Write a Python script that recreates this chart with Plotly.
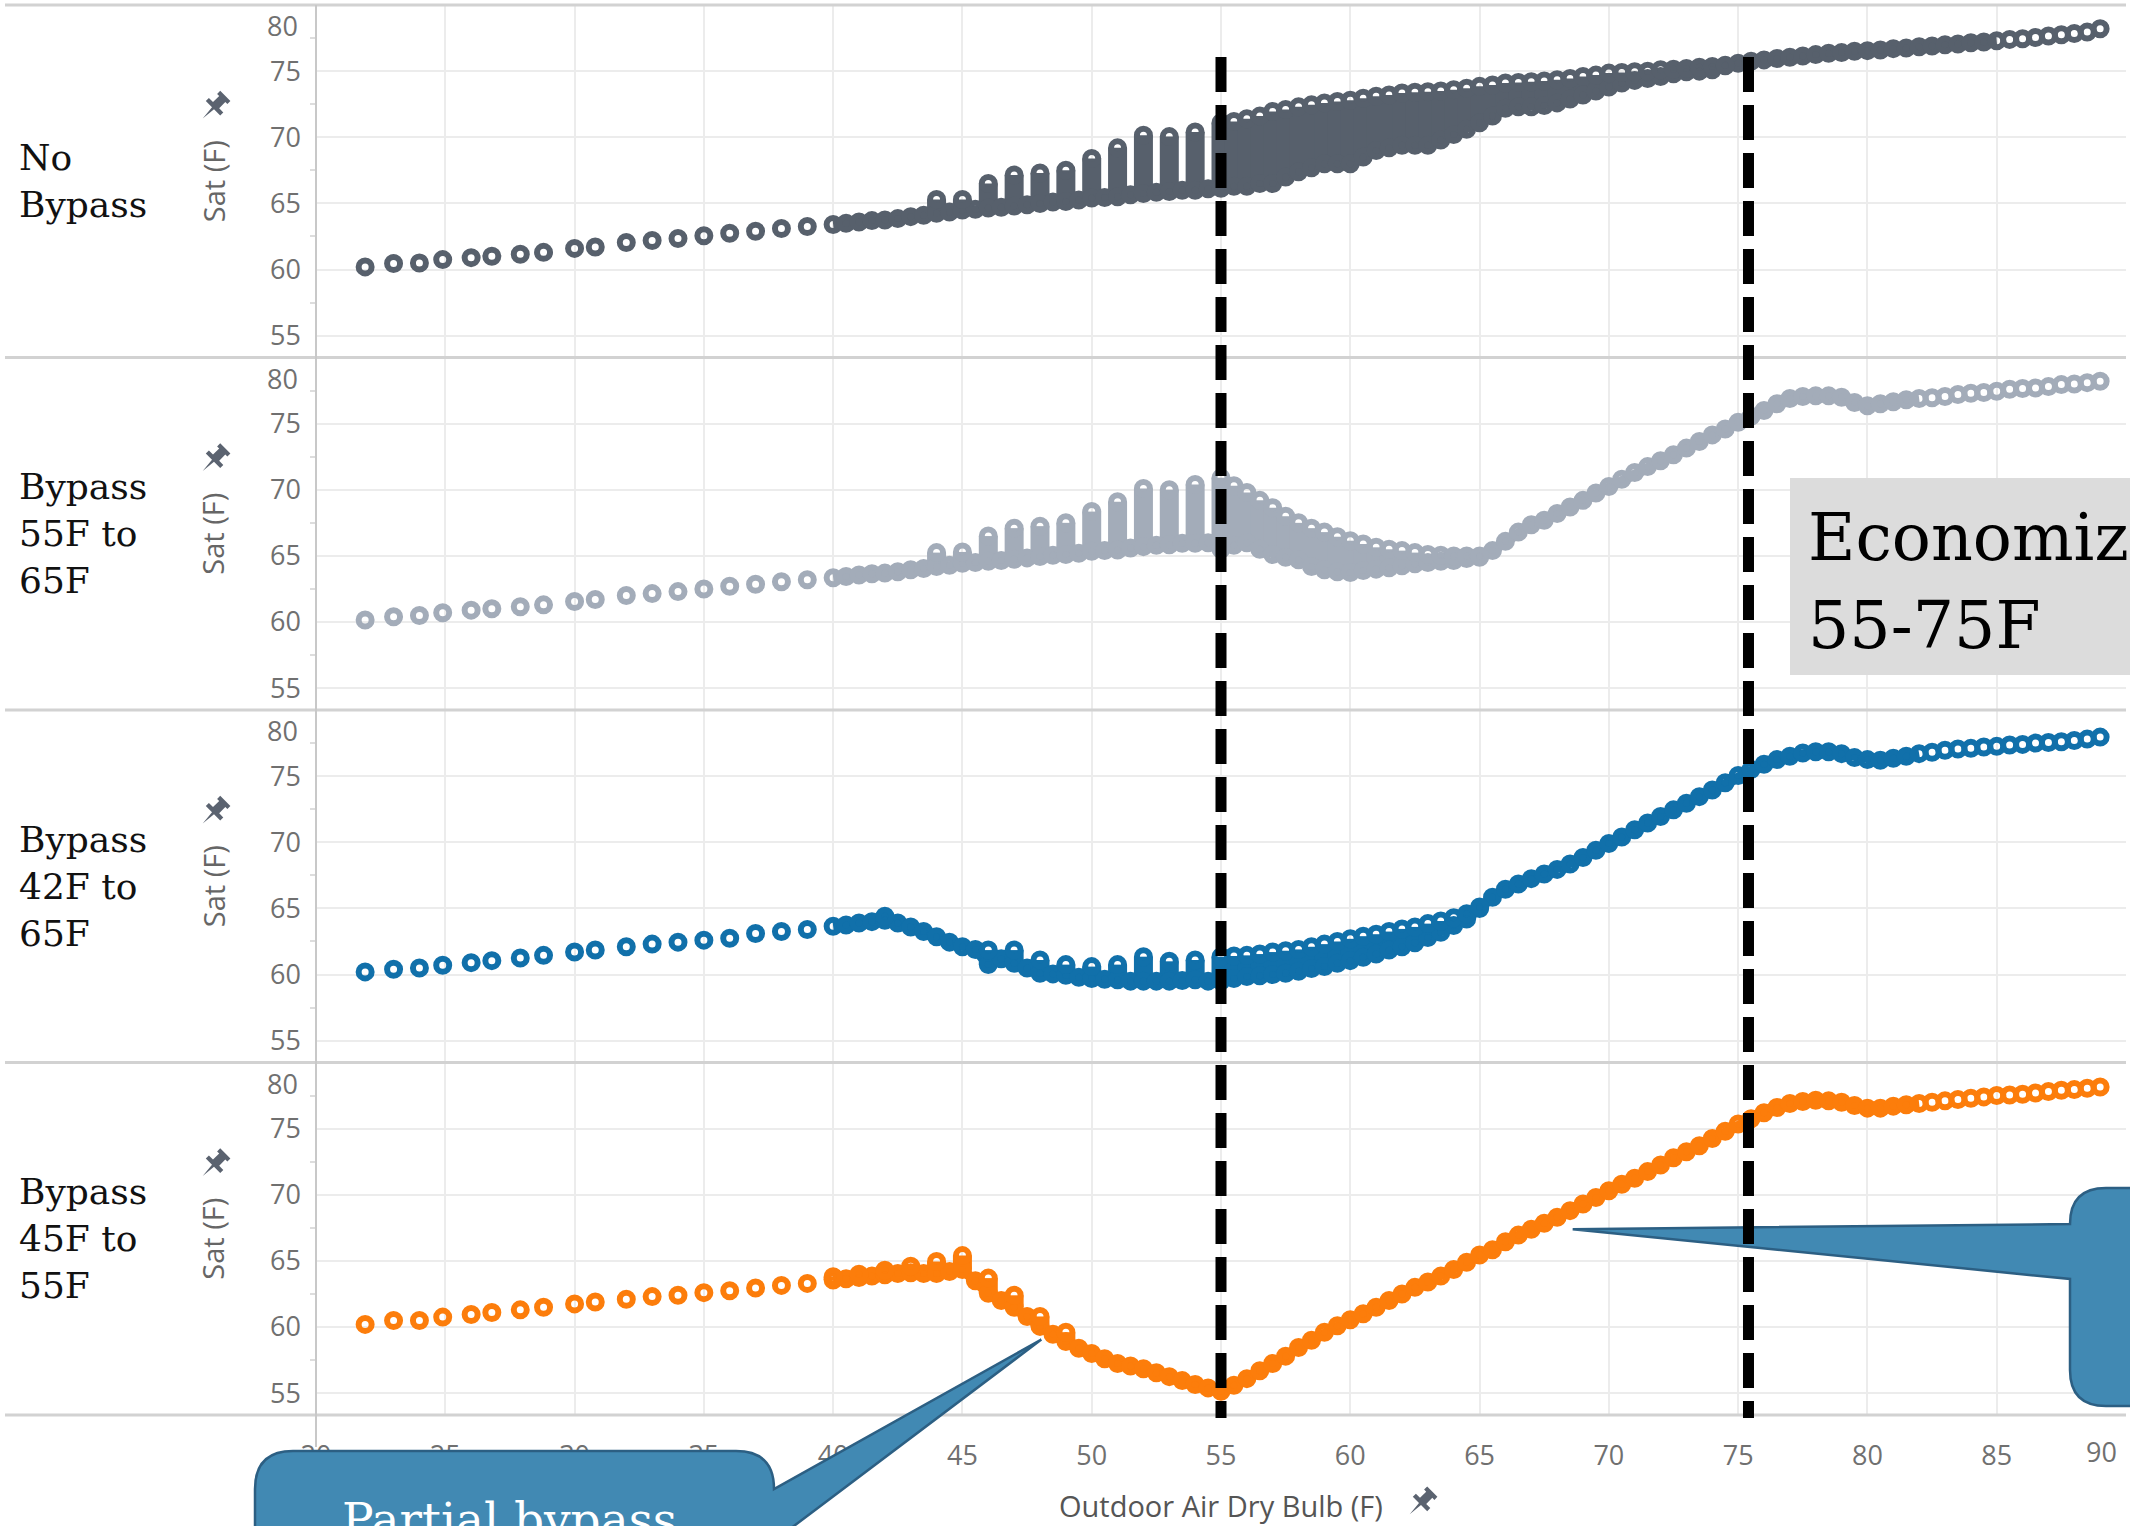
import math
import plotly.graph_objects as go
from plotly.subplots import make_subplots

N = None

# Outdoor air dry bulb temperatures (F), shared by all four scenarios
oat = [21.9, 23.0, 24.0, 24.9, 26.0, 26.8, 27.9, 28.8, 30.0, 30.8,
       32.0, 32.5, 33.0, 33.5, 34.0, 34.5, 35.0, 35.5, 36.0, 36.5,
       37.0, 37.5, 38.0, 38.5, 39.0, 39.5, 40.0, 40.5, 41.0, 41.5,
       42.0, 42.5, 43.0, 43.5, 44.0, 44.5, 45.0, 45.5, 46.0, 46.5,
       47.0, 47.5, 48.0, 48.5, 49.0, 49.5, 50.0, 50.5, 51.0, 51.5,
       52.0, 52.5, 53.0, 53.5, 54.0, 54.5, 55.0, 55.5, 56.0, 56.5,
       57.0, 57.5, 58.0, 58.5, 59.0, 59.5, 60.0, 60.5, 61.0, 61.5,
       62.0, 62.5, 63.0, 63.5, 64.0, 64.5, 65.0, 65.5, 66.0, 66.5,
       67.0, 67.5, 68.0, 68.5, 69.0, 69.5, 70.0, 70.5, 71.0, 71.5,
       72.0, 72.5, 73.0, 73.5, 74.0, 74.5, 75.0, 75.5, 76.0, 76.5,
       77.0, 77.5, 78.0, 78.5, 79.0, 79.5, 80.0, 80.5, 81.0, 81.5,
       82.0, 82.5, 83.0, 83.5, 84.0, 84.5, 85.0, 85.5, 86.0, 86.5,
       87.0, 87.5, 88.0, 88.5, 89.0]

# Supply air temperature (F), lower envelope of the hourly points
nb_sat = [60.2, 60.45, 60.5, 60.75, 60.9, 61.0, 61.15, 61.3, 61.6, 61.7,
          62.05, N, 62.2, N, 62.35, N, 62.55, N, 62.75, N,
          62.9, N, 63.1, N, 63.25, N, 63.4, 63.5, 63.6, 63.7,
          63.75, 63.85, 64.0, 64.1, 64.25, 64.35, 64.5, 64.55, 64.65, 64.7,
          64.8, 64.9, 65.0, 65.1, 65.15, 65.25, 65.4, 65.45, 65.5, 65.65,
          65.75, 65.85, 65.9, 66.0, 66.0, 66.1, 66.15, 66.3, 66.3, 66.5,
          66.5, 67.0, 67.4, 67.7, 68.0, 68.0, 68.0, 68.5, 69.0, 69.2,
          69.4, 69.4, 69.4, 69.8, 70.2, 70.6, 71.1, 71.6, 72.2, 72.3,
          72.3, 72.4, 72.6, 72.9, 73.2, 73.5, 73.8, 74.1, 74.3, 74.45,
          74.6, 74.8, 74.95, 75.0, 75.1, 75.4, 75.6, 75.75, 75.85, 75.95,
          76.05, 76.15, 76.25, 76.35, 76.4, 76.5, 76.55, 76.6, 76.7, 76.75,
          76.85, 76.9, 77.0, 77.05, 77.15, 77.2, 77.3, 77.4, 77.45, 77.55,
          77.65, 77.75, 77.85, 77.95, 78.2]

bp55_sat = [60.15, 60.4, 60.5, 60.7, 60.9, 61.0, 61.15, 61.3, 61.55, 61.7,
            62.0, N, 62.15, N, 62.3, N, 62.5, N, 62.7, N,
            62.85, N, 63.05, N, 63.2, N, 63.35, 63.45, 63.55, 63.65,
            63.7, 63.8, 63.95, 64.05, 64.2, 64.3, 64.45, 64.5, 64.6, 64.65,
            64.75, 64.85, 64.95, 65.05, 65.1, 65.2, 65.35, 65.4, 65.45, 65.6,
            65.7, 65.8, 65.85, 65.95, 65.95, 66.0, 65.5, 65.8, 66.0, 65.5,
            65.1, 64.9, 64.7, 64.2, 63.95, 63.8, 63.75, 63.9, 64.0, 64.1,
            64.25, 64.4, 64.5, 64.6, 64.65, 64.8, 64.9, 65.4, 66.1, 66.8,
            67.35, 67.7, 68.2, 68.7, 69.2, 69.75, 70.25, 70.8, 71.3, 71.75,
            72.2, 72.65, 73.15, 73.65, 74.15, 74.6, 75.1, 75.55, 76.0, 76.5,
            76.9, 77.05, 77.1, 77.1, 77.0, 76.6, 76.35, 76.5, 76.65, 76.8,
            76.9, 76.95, 77.05, 77.2, 77.3, 77.35, 77.45, 77.6, 77.65, 77.7,
            77.8, 77.95, 78.0, 78.1, 78.2]

bp42_sat = [60.2, 60.4, 60.5, 60.7, 60.9, 61.05, 61.25, 61.45, 61.7, 61.85,
            62.1, N, 62.3, N, 62.45, N, 62.6, N, 62.75, N,
            63.1, N, 63.25, N, 63.4, N, 63.65, 63.75, 63.9, 64.0,
            64.1, 63.9, 63.6, 63.25, 62.85, 62.45, 62.1, 61.9, 60.75, 61.2,
            60.85, 60.5, 60.1, 60.05, 59.95, 59.8, 59.7, 59.65, 59.6, 59.5,
            59.5, 59.5, 59.5, 59.55, 59.6, 59.5, 59.5, 59.7, 59.85, 59.9,
            60.0, 60.1, 60.25, 60.45, 60.6, 60.85, 61.05, 61.3, 61.55, 61.85,
            62.1, 62.4, 62.8, 63.2, 63.7, 64.2, 65.0, 65.85, 66.45, 66.85,
            67.25, 67.6, 67.95, 68.35, 68.85, 69.4, 69.9, 70.4, 70.95, 71.45,
            71.95, 72.45, 72.95, 73.45, 73.95, 74.5, 75.05, 75.5, 75.9, 76.25,
            76.5, 76.75, 76.85, 76.85, 76.7, 76.4, 76.25, 76.2, 76.35, 76.5,
            76.7, 76.8, 76.95, 77.05, 77.1, 77.2, 77.25, 77.35, 77.4, 77.5,
            77.55, 77.6, 77.7, 77.8, 77.95]

bp45_sat = [60.2, 60.5, 60.5, 60.75, 60.95, 61.1, 61.3, 61.5, 61.75, 61.9,
            62.1, N, 62.3, N, 62.4, N, 62.6, N, 62.75, N,
            62.95, N, 63.15, N, 63.3, N, 63.55, 63.65, 63.75, 63.85,
            63.95, 64.05, 64.1, 64.05, 64.05, 64.2, 64.35, 63.5, 62.55, 62.0,
            61.5, 60.8, 60.05, 59.45, 58.9, 58.4, 58.0, 57.6, 57.25, 57.05,
            56.85, 56.55, 56.25, 55.95, 55.65, 55.4, 55.15, 55.6, 56.1, 56.7,
            57.25, 57.8, 58.45, 59.0, 59.6, 60.1, 60.55, 61.0, 61.5, 62.0,
            62.5, 63.0, 63.4, 63.85, 64.35, 64.9, 65.45, 65.85, 66.45, 66.95,
            67.4, 67.85, 68.3, 68.8, 69.3, 69.8, 70.3, 70.8, 71.25, 71.75,
            72.25, 72.8, 73.25, 73.7, 74.25, 74.8, 75.35, 75.75, 76.2, 76.6,
            76.9, 77.05, 77.15, 77.1, 77.0, 76.75, 76.55, 76.55, 76.7, 76.8,
            76.9, 77.0, 77.1, 77.2, 77.3, 77.4, 77.5, 77.55, 77.6, 77.7,
            77.8, 77.9, 77.95, 78.05, 78.15]

# Upper values where the hourly points spread vertically at one temperature
nb_spread_x = [44, 45, 46, 47, 48, 49, 50, 51, 52, 53, 54, 55, 55.5, 56, 56.5,
               57, 57.5, 58, 58.5, 59, 59.5, 60, 60.5, 61, 61.5, 62, 62.5, 63,
               63.5, 64, 64.5, 65, 65.5, 66, 66.5, 67, 67.5, 68, 68.5, 69, 69.5,
               70, 70.5, 71, 71.5, 72, 72.5, 73, 73.5, 74, 74.5]
nb_spread_top = [65.3, 65.3, 66.5, 67.15, 67.3, 67.5, 68.4, 69.2, 70.15, 70.05, 70.4,
                 71.1, 71.2, 71.4, 71.6, 71.95, 72.1, 72.3, 72.45, 72.6, 72.7, 72.8,
                 72.95, 73.1, 73.2, 73.35, 73.4, 73.45, 73.5, 73.6, 73.7, 73.85,
                 73.95, 74.1, 74.15, 74.2, 74.25, 74.35, 74.45, 74.6, 74.7, 74.85,
                 74.9, 74.95, 75.0, 75.1, 75.15, 75.2, 75.3, 75.35, 75.45]

bp55_spread_x = [44, 45, 46, 47, 48, 49, 50, 51, 52, 53, 54, 55, 55.5, 56, 56.5,
                 57, 57.5, 58, 58.5, 59, 59.5, 60, 60.5, 61, 61.5, 62, 62.5, 63,
                 63.5, 64, 64.5, 65]
bp55_spread_top = [65.25, 65.3, 66.5, 67.1, 67.25, 67.5, 68.35, 69.1, 70.1, 70.0, 70.4,
                   70.9, 70.3, 69.8, 69.2, 68.65, 68.0, 67.5, 67.1, 66.8, 66.45, 66.15,
                   65.9, 65.65, 65.5, 65.4, 65.25, 65.1, 65.05, 65.0, 65.0, 65.0]

bp42_spread_x = [42, 46, 47, 48, 49, 50, 51, 52, 53, 54, 55, 55.5, 56, 56.5, 57, 57.5,
                 58, 58.5, 59, 59.5, 60, 60.5, 61, 61.5, 62, 62.5, 63, 63.5, 64,
                 64.5, 65]
bp42_spread_top = [64.4, 61.85, 61.85, 61.1, 60.75, 60.6, 60.75, 61.35, 61.0, 61.1, 61.35,
                   61.4, 61.45, 61.55, 61.7, 61.8, 61.9, 62.1, 62.3, 62.5, 62.7, 62.9,
                   63.05, 63.25, 63.45, 63.6, 63.85, 64.05, 64.3, 64.6, 65.1]

bp45_spread_x = [40, 41, 42, 43, 44, 45, 46, 47, 48, 49]
bp45_spread_top = [63.8, 64.0, 64.3, 64.6, 64.95, 65.4, 63.7, 62.4, 60.8, 59.6]

row_labels = ["No<br>Bypass", "Bypass<br>55F to<br>65F",
              "Bypass<br>42F to<br>65F", "Bypass<br>45F to<br>55F"]
colors = ["#57606c", "#a3acb9", "#1170aa", "#fc7d0b"]
sat_series = [nb_sat, bp55_sat, bp42_sat, bp45_sat]
spread_x = [nb_spread_x, bp55_spread_x, bp42_spread_x, bp45_spread_x]
spread_top = [nb_spread_top, bp55_spread_top, bp42_spread_top, bp45_spread_top]
# temperature span where hourly points overlap into a continuous band
dense_span = [[40, 85], [40, 82], [40, 82], [40, 82]]

x_ticks = [20, 25, 30, 35, 40, 45, 50, 55, 60, 65, 70, 75, 80, 85, 90]
y_ticks = [55, 60, 65, 70, 75]
economizer_bounds = [55, 75.4]
X_RANGE = [20, 90]
Y_RANGE = [53.35, 80]

# ---------------- layout geometry ----------------
W, H = 2130, 1526
ML, MR, MT, MB = 316, 4, 5, 111
PW = W - ML - MR
PH = H - MT - MB
BOTTOM = H - MB

def px_x(px):
    return (px - ML) / PW

def px_y(py):
    return (BOTTOM - py) / PH

def P(px, py):
    return f"{px - ML:.1f},{BOTTOM - py:.1f}"

def data_to_px(xv, yv, k):
    px = ML + (xv - X_RANGE[0]) / (X_RANGE[1] - X_RANGE[0]) * PW
    top = MT + k * PH / 4
    py = top + (Y_RANGE[1] - yv) / (Y_RANGE[1] - Y_RANGE[0]) * (PH / 4)
    return px, py

def pix_path(path, fill, line_color=None, line_width=0):
    return dict(type="path", xref="paper", yref="paper", xsizemode="pixel",
                ysizemode="pixel", xanchor=0, yanchor=0, path=path, layer="above",
                fillcolor=fill,
                line=dict(color=line_color or fill, width=line_width))

fig = make_subplots(rows=4, cols=1, shared_xaxes=True, vertical_spacing=0)

MS, MLW, BAR, BAND = 13, 6, 19, 10
for i in range(4):
    row = i + 1
    color = colors[i]
    sat = sat_series[i]
    idx = {xv: k for k, xv in enumerate(oat)}
    seg_x, seg_y = [], []
    for xv, top in zip(spread_x[i], spread_top[i]):
        lo = sat[idx[xv]]
        seg_x += [xv, xv, None]
        seg_y += [lo, top, None]
    fig.add_trace(go.Scatter(x=seg_x, y=seg_y, mode="lines",
                             line=dict(color=color, width=BAR),
                             hoverinfo="skip", showlegend=False), row=row, col=1)
    lo_s, hi_s = dense_span[i]
    bx = [xv for xv, yv in zip(oat, sat) if lo_s <= xv <= hi_s and yv is not None]
    by = [yv for xv, yv in zip(oat, sat) if lo_s <= xv <= hi_s and yv is not None]
    fig.add_trace(go.Scatter(x=bx, y=by, mode="lines",
                             line=dict(color=color, width=BAND),
                             hoverinfo="skip", showlegend=False), row=row, col=1)
    mk = dict(symbol="circle-open", size=MS, color=color, line=dict(width=MLW, color=color))
    fig.add_trace(go.Scatter(x=oat, y=sat, mode="markers", marker=mk,
                             showlegend=False), row=row, col=1)
    fig.add_trace(go.Scatter(x=spread_x[i], y=spread_top[i], mode="markers", marker=mk,
                             showlegend=False), row=row, col=1)

tick_font = dict(family="Open Sans, Noto Sans, sans-serif", size=27, color="#707070")
fig.update_xaxes(range=X_RANGE, tickvals=x_ticks,
                 ticktext=[str(t) for t in x_ticks[:-1]] + [""],
                 showgrid=True, gridcolor="#ececec", gridwidth=2,
                 zeroline=False, showline=False, ticks="",
                 tickfont=tick_font, ticklabelstandoff=22)
for r in (1, 2, 3):
    fig.update_xaxes(showticklabels=False, row=r, col=1)
fig.update_yaxes(range=Y_RANGE, tickvals=y_ticks, showgrid=True, gridcolor="#ececec",
                 gridwidth=2, zeroline=False, showline=False, ticks="",
                 tickfont=tick_font, ticklabelstandoff=14,
                 minor=dict(tickvals=[57.5, 62.5, 67.5, 72.5, 77.5], ticks="outside",
                            ticklen=5, tickcolor="#dddddd", tickwidth=2, showgrid=False))

shapes = []
annotations = []

# panel separators and y axis line
for k in range(5):
    y = 1 - k / 4
    shapes.append(dict(type="line", xref="paper", yref="paper", x0=px_x(5), x1=1,
                       y0=y, y1=y, line=dict(color="#d2d2d2", width=3), layer="above"))
shapes.append(dict(type="line", xref="paper", yref="paper", x0=0, x1=0,
                   y0=1, y1=px_y(1447), line=dict(color="#c8c8c8", width=2), layer="above"))

# callout 1 (bottom-left)
tx, ty = data_to_px(48.05, 59.05, 3)
r = 38
b1 = (f"M {P(255, 1640)} L {P(255, 1451 + r)} Q {P(255, 1451)} {P(255 + r, 1451)} "
      f"L {P(774 - r, 1451)} Q {P(774, 1451)} {P(774, 1451 + r)} "
      f"L {P(tx, ty)} L {P(774, 1541)} L {P(774, 1640)} Z")
shapes.append(pix_path(b1, "#4189b3", "#2c5f83", 2.5))

# callout 2 (right)
tx2, ty2 = data_to_px(68.6, 67.4, 3)
r2 = 36
b2 = (f"M {P(2170, 1188)} L {P(2070 + r2, 1188)} Q {P(2070, 1188)} {P(2070, 1188 + r2)} "
      f"L {P(tx2, ty2)} L {P(2070, 1279)} L {P(2070, 1406 - r2)} "
      f"Q {P(2070, 1406)} {P(2070 + r2, 1406)} L {P(2170, 1406)} Z")
shapes.append(pix_path(b2, "#4189b3", "#2c5f83", 2.5))

# economizer grey label box
eco = f"M {P(1790, 478)} L {P(2170, 478)} L {P(2170, 675)} L {P(1790, 675)} Z"
shapes.append(pix_path(eco, "#dcdcdc"))

# dashed economizer bounds
for xb in economizer_bounds:
    shapes.append(dict(type="line", xref="x", yref="paper", x0=xb, x1=xb,
                       y0=px_y(57), y1=px_y(1418),
                       line=dict(color="black", width=11, dash="35px,13px"), layer="above"))

# pin icons
PIN = [(-5, 12), (5, 12), (5, 9), (3, 9), (3, 3), (7, 3), (7, 0), (1, 0), (0, -10),
       (-1, 0), (-7, 0), (-7, 3), (-3, 3), (-3, 9), (-5, 9)]

def pin_shape(cx, cy, scale=1.45):
    c = math.cos(math.radians(45))
    s = math.sin(math.radians(45))
    parts = []
    for j, (x, y) in enumerate(PIN):
        xr = (x * c + y * s) * scale
        yr = (-x * s + y * c) * scale
        parts.append(("M " if j == 0 else "L ") + f"{cx - ML + xr:.1f},{BOTTOM - cy + yr:.1f}")
    return pix_path(" ".join(parts) + " Z", "#5b6370")

label_font = dict(family="DejaVu Serif, Liberation Serif, serif", size=36, color="#111111")
title_font = dict(family="Open Sans, Noto Sans, sans-serif", size=29, color="#666666")
for k in range(4):
    yc = 1 - (k + 0.5) / 4
    yc_px = MT + (k + 0.5) * PH / 4
    annotations.append(dict(text=row_labels[k], xref="paper", yref="paper",
                            x=px_x(17), y=yc, xanchor="left", yanchor="middle",
                            align="left", showarrow=False, font=label_font))
    annotations.append(dict(text="Sat (F)", xref="paper", yref="paper", x=px_x(213),
                            y=yc, xanchor="center", yanchor="middle", textangle=-90,
                            showarrow=False, font=title_font))
    shapes.append(pin_shape(213, yc_px - 73))
    yref = "y" if k == 0 else f"y{k + 1}"
    annotations.append(dict(text="80", xref="paper", yref=yref, x=px_x(300), y=80,
                            xanchor="right", yanchor="top", yshift=0,
                            showarrow=False, font=tick_font))

annotations.append(dict(text="90", xref="x4", yref="paper", x=90, xshift=-25,
                        y=px_y(1451), xanchor="center", yanchor="middle",
                        showarrow=False, font=tick_font))
annotations.append(dict(text="Outdoor Air Dry Bulb (F)", xref="paper", yref="paper",
                        x=0.5, y=px_y(1505), xanchor="center", yanchor="middle",
                        showarrow=False,
                        font=dict(family="Open Sans, Noto Sans, sans-serif", size=29,
                                  color="#555555")))
shapes.append(pin_shape(1420, 1504))

annotations.append(dict(text="Partial bypass", xref="paper", yref="paper",
                        x=px_x(340), y=px_y(1490), xanchor="left", yanchor="top",
                        showarrow=False,
                        font=dict(family="DejaVu Serif, Liberation Serif, serif",
                                  size=47, color="white")))
eco_font = dict(family="DejaVu Serif, Liberation Serif, serif", size=65, color="#000000")
annotations.append(dict(text="Economize", xref="paper", yref="paper", x=px_x(1806),
                        y=px_y(537), xanchor="left", yanchor="middle",
                        showarrow=False, font=eco_font))
annotations.append(dict(text="55-75F", xref="paper", yref="paper", x=px_x(1806),
                        y=px_y(625), xanchor="left", yanchor="middle",
                        showarrow=False, font=eco_font))

fig.update_layout(width=W, height=H, autosize=False,
                  margin=dict(l=ML, r=MR, t=MT, b=MB),
                  plot_bgcolor="white", paper_bgcolor="white",
                  shapes=shapes, annotations=annotations,
                  hovermode=False, showlegend=False)

fig.write_html("out.html", config={"displayModeBar": False},
               post_script="document.body.style.margin='0';document.body.style.overflow='hidden';")
